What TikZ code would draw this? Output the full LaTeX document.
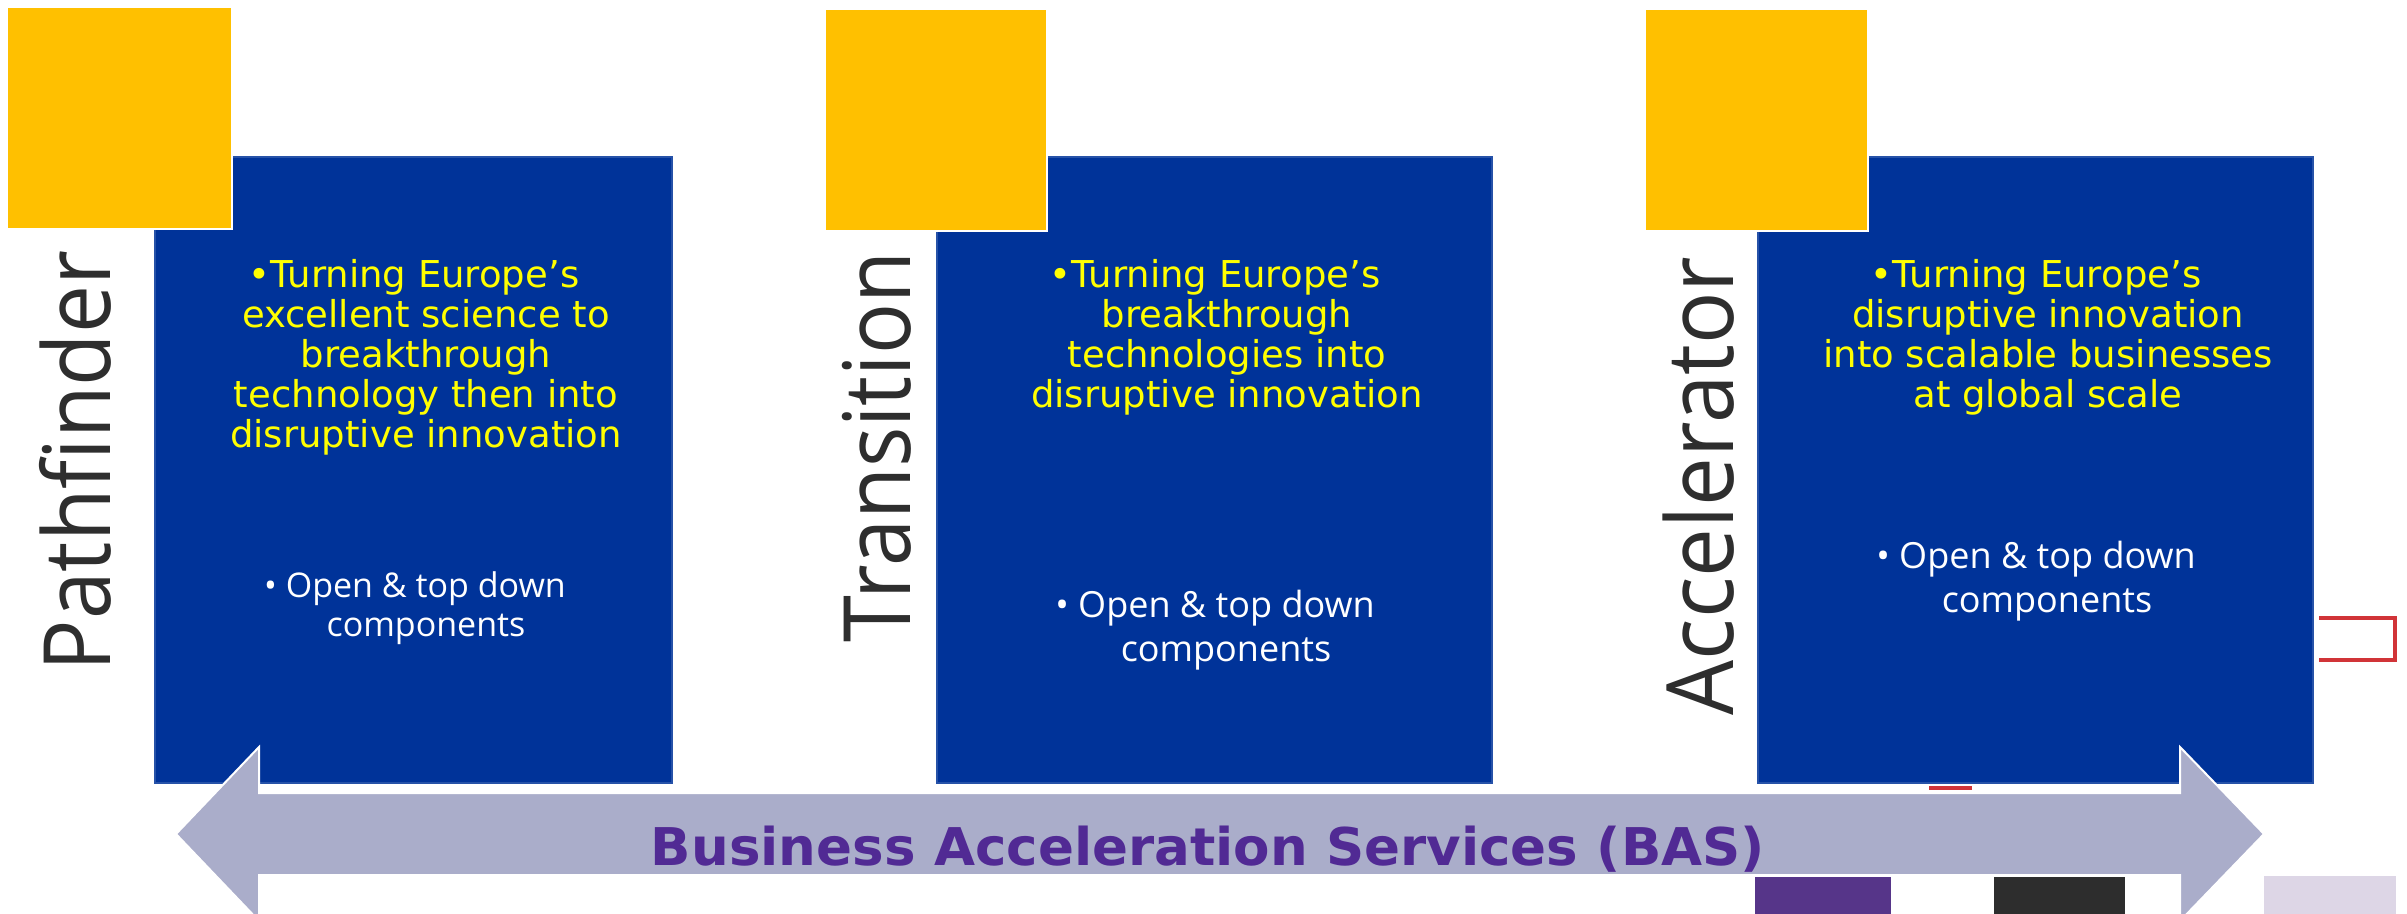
\documentclass[tikz,border=0pt]{standalone}
\usepackage{fontspec}
\usepackage{graphicx}
\setmainfont{DejaVu Sans}
\newfontfamily\yfont{DejaVu Sans}
\newfontfamily\wfont{Open Sans}
\definecolor{boxblue}{HTML}{003399}
\definecolor{sqyellow}{HTML}{FFC000}
\definecolor{txtyellow}{HTML}{FFFF00}
\definecolor{labgray}{HTML}{2E2E2E}
\definecolor{arrowfill}{HTML}{AAADCA}
\definecolor{baspurple}{HTML}{512A94}
\definecolor{markred}{HTML}{D13438}
\definecolor{sqpurple}{HTML}{563589}
\definecolor{sqdark}{HTML}{2D2D2D}
\definecolor{sqlav}{HTML}{DDD6E6}
\tikzset{
  bluebox/.style={fill=boxblue, draw=boxblue!85!white, line width=0.6pt},
  yellowsq/.style={fill=sqyellow, draw=white, line width=1.2pt},
  ytext/.style={anchor=base, inner sep=0pt, text=txtyellow, font={\yfont\fontsize{18.5}{19.75}\selectfont}},
  wtext/.style={anchor=base, inner sep=0pt, text=white, font={\wfont\fontsize{18}{22}\selectfont}},
  wtextsmall/.style={anchor=base, inner sep=0pt, text=white, font={\wfont\fontsize{17}{19.5}\selectfont}},
  sidelabel/.style={anchor=base, rotate=90, inner sep=0pt, text=labgray, font={\wfont\fontsize{46.5}{50}\selectfont}},
  bastext/.style={anchor=base, inner sep=0pt, text=baspurple, font={\yfont\bfseries\fontsize{26}{30}\selectfont}},
  redmark/.style={draw=markred, line width=2pt},
}
\begin{document}
\begin{tikzpicture}[x=0.5pt, y=-0.5pt]
\useasboundingbox (0,0) rectangle (2407,914);
\fill[white] (0,0) rectangle (2407,914);

% blue boxes
\path[bluebox] (155,157) rectangle (672,783);
\path[bluebox] (937,157) rectangle (1492,783);
\path[bluebox] (1758,157) rectangle (2313,783);

% yellow squares
\path[yellowsq] (7,7) rectangle (232,229);
\path[yellowsq] (825,9) rectangle (1047,231);
\path[yellowsq] (1645,9) rectangle (1868,231);

% side labels
\node[sidelabel] (lpath) at (110,461) {\scalebox{0.92}[1]{Pathfinder}};
\node[sidelabel] (ltrans) at (910,447) {\scalebox{0.91}[1]{Transition}};
\node[sidelabel] (laccel) at (1733,486) {\scalebox{0.935}[1]{Accelerator}};

% yellow texts
\node[ytext] (y1) at (426,288) {\begin{tabular}[t]{@{}c@{}}•Turning Europe’s\kern12pt\\excellent science to\\breakthrough\\technology then into\\disruptive innovation\end{tabular}};
\node[ytext] (y2) at (1227,288) {\begin{tabular}[t]{@{}c@{}}•Turning Europe’s\kern12pt\\breakthrough\\technologies into\\disruptive innovation\end{tabular}};
\node[ytext] (y3) at (2048,288) {\begin{tabular}[t]{@{}c@{}}•Turning Europe’s\kern12pt\\disruptive innovation\\into scalable businesses\\at global scale\end{tabular}};

% white texts
\node[wtextsmall] (w1) at (426,597) {\begin{tabular}[t]{@{}c@{}}• Open \& top down\kern11pt\\components\end{tabular}};
\node[wtext] (w2) at (1226,617) {\begin{tabular}[t]{@{}c@{}}• Open \& top down\kern11pt\\components\end{tabular}};
\node[wtext] (w3) at (2047,568) {\begin{tabular}[t]{@{}c@{}}• Open \& top down\kern11pt\\components\end{tabular}};

% double arrow
\fill[arrowfill, draw=white, line width=1pt]
  (176,834) -- (259,747) -- (259,793) -- (2180,793) -- (2180,747) -- (2264,834)
  -- (2180,921) -- (2180,875) -- (259,875) -- (259,921) -- cycle;
\node[bastext] (bas) at (1208,865) {\scalebox{1.02}[1]{Business Acceleration Services (BAS)}};

% red marks
\draw[redmark] (2319,618) -- (2395,618) -- (2395,660) -- (2319,660);
\draw[redmark, line width=1.6pt] (1929,788) -- (1972,788);

% bottom squares
\fill[sqpurple] (1755,877) rectangle (1891,914);
\fill[sqdark] (1994,877) rectangle (2125,914);
\fill[sqlav] (2264,876) rectangle (2396,914);
\end{tikzpicture}
\end{document}
